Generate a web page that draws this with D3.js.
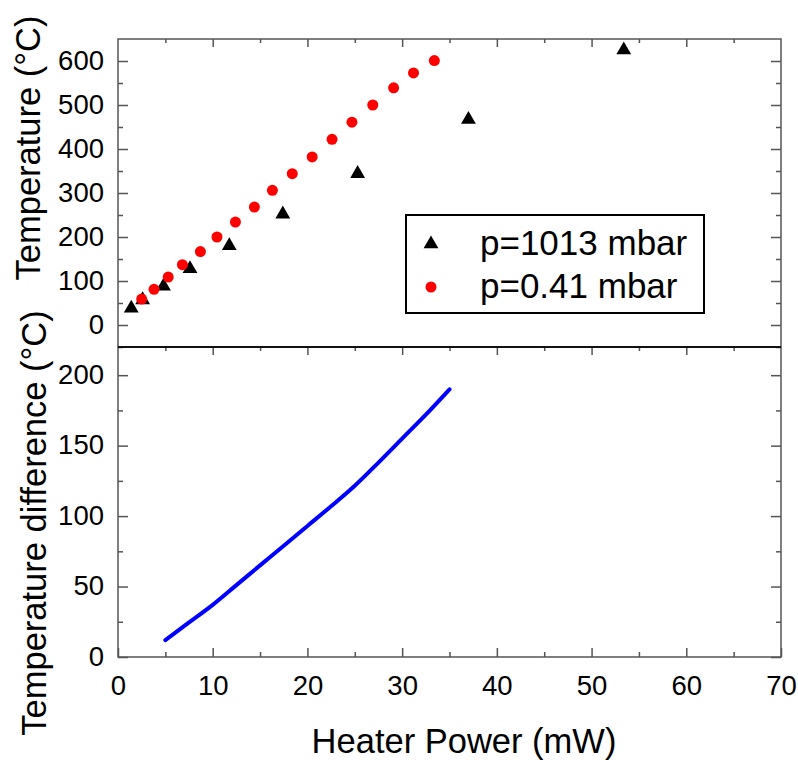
<!DOCTYPE html>
<html>
<head>
<meta charset="utf-8">
<script src="https://cdn.jsdelivr.net/npm/d3@7"></script>
<style>
  body { margin: 0; background: #fff; }
  svg { font-family: "Liberation Sans", Arial, sans-serif; }
  .axis path { display: none; }
  .axis line { stroke: #555; stroke-width: 1.5; }
  .axis text { font-family: "Liberation Sans", Arial, sans-serif; font-size: 27.5px; fill: #000; }
</style>
</head>
<body>
<script>
// data
var powerAtm = [1.4, 2.6, 4.8, 7.6, 11.75, 17.4, 25.3, 37.0, 53.4];
var tempAtm  = [38, 57, 88, 128, 180, 252, 344, 467, 625];

var powerVac = [2.5, 3.8, 5.3, 6.8, 8.7, 10.45, 12.4, 14.4, 16.3, 18.4, 20.5, 22.6, 24.7, 26.9, 29.1, 31.2, 33.4];
var tempVac  = [59, 81, 109, 137, 167, 200, 234, 268, 306, 344, 382, 422, 461, 500, 539, 573, 601];

var diffPower = [5, 7.5, 10, 12.5, 15, 17.5, 20, 22.5, 25, 27.5, 30, 32.5, 35];
var diffTemp  = [12, 24.5, 37, 51, 65, 79, 93, 107, 121.5, 138, 155, 172, 190];

var xTicks = [0, 10, 20, 30, 40, 50, 60, 70];
var topTicks = [0, 100, 200, 300, 400, 500, 600];
var botTicks = [0, 50, 100, 150, 200];

var legendLabels = ["p=1013 mbar", "p=0.41 mbar"];

var pLeft = 118, pRight = 781, pTop = 39, pMid = 347, pBottom = 657;

var svg = d3.select("body")
            .append("svg")
            .attr("width", 798)
            .attr("height", 760);

//Scales
var xScale = d3.scaleLinear().domain([0, 70]).range([pLeft, pRight]);
var yTop = d3.scaleLinear().domain([-50, 650]).range([pMid, pTop]);
var yBot = d3.scaleLinear().domain([0, 220]).range([pBottom, pMid]);

var minorX = d3.range(5, 70, 10);

//helper for inward tick axes
function addAxis(axis, tx, ty, cls) {
  return svg.append("g")
     .attr("class", "axis " + (cls || ""))
     .attr("transform", "translate(" + tx + "," + ty + ")")
     .call(axis);
}

// x axis bottom (labels + inward ticks)
addAxis(d3.axisBottom(xScale).tickValues(xTicks).tickSizeInner(-9).tickPadding(18), 0, pBottom, "xlab");
addAxis(d3.axisBottom(xScale).tickValues(minorX).tickSizeInner(-5).tickFormat(""), 0, pBottom);

// top edges of both panels
[pTop, pMid].forEach(function(yy) {
  addAxis(d3.axisTop(xScale).tickValues(xTicks.slice(1, -1)).tickSizeInner(-8).tickFormat(""), 0, yy);
  addAxis(d3.axisTop(xScale).tickValues(minorX).tickSizeInner(-4).tickFormat(""), 0, yy);
});

// top panel y axes
addAxis(d3.axisLeft(yTop).tickValues(topTicks).tickSizeInner(-10).tickPadding(14), pLeft, 0, "ylab");
addAxis(d3.axisLeft(yTop).tickValues(d3.range(-50, 650, 100)).tickSizeInner(-5).tickFormat(""), pLeft, 0);
addAxis(d3.axisRight(yTop).tickValues(topTicks).tickSizeInner(-10).tickFormat(""), pRight, 0);
addAxis(d3.axisRight(yTop).tickValues(d3.range(-50, 650, 100)).tickSizeInner(-5).tickFormat(""), pRight, 0);

// bottom panel y axes
addAxis(d3.axisLeft(yBot).tickValues(botTicks).tickSizeInner(-10).tickPadding(14), pLeft, 0, "ylab");
addAxis(d3.axisLeft(yBot).tickValues(d3.range(25, 220, 50)).tickSizeInner(-5).tickFormat(""), pLeft, 0);
addAxis(d3.axisRight(yBot).tickValues(botTicks).tickSizeInner(-10).tickFormat(""), pRight, 0);
addAxis(d3.axisRight(yBot).tickValues(d3.range(25, 220, 50)).tickSizeInner(-5).tickFormat(""), pRight, 0);

svg.selectAll(".ylab text").attr("dy", "0.3em");
svg.selectAll(".xlab text").attr("dy", "0.71em");

//Frames
svg.append("rect")
   .attr("x", pLeft).attr("y", pTop)
   .attr("width", pRight - pLeft).attr("height", pBottom - pTop)
   .attr("fill", "none")
   .attr("stroke", "#555")
   .attr("stroke-width", 1.5);

svg.append("line")
   .attr("x1", pLeft).attr("x2", pRight)
   .attr("y1", pMid).attr("y2", pMid)
   .attr("stroke", "#111")
   .attr("stroke-width", 2);

//Top panel points
var tri = d3.symbol().type(d3.symbolTriangle).size(95);

svg.selectAll("path.atm")
   .data(powerAtm)
   .enter()
   .append("path")
   .attr("class", "atm")
   .attr("d", tri)
   .attr("transform", function(d, i) {
     return "translate(" + xScale(d) + "," + yTop(tempAtm[i]) + ")";
   })
   .attr("fill", "#000");

svg.selectAll("circle.vac")
   .data(powerVac)
   .enter()
   .append("circle")
   .attr("class", "vac")
   .attr("cx", function(d) { return xScale(d); })
   .attr("cy", function(d, i) { return yTop(tempVac[i]); })
   .attr("r", 5.5)
   .attr("fill", "#ff0000");

//Bottom panel line
var line = d3.line()
  .x(function(d) { return xScale(d); })
  .y(function(d, i) { return yBot(diffTemp[i]); })
  .curve(d3.curveCatmullRom);

svg.append("path")
   .datum(diffPower)
   .attr("d", line)
   .attr("fill", "none")
   .attr("stroke", "#0000ff")
   .attr("stroke-width", 4)
   .attr("stroke-linecap", "round");

//Legend
var lg = svg.append("g").attr("transform", "translate(406,215)");
lg.append("rect")
  .attr("width", 298).attr("height", 98)
  .attr("fill", "#fff")
  .attr("stroke", "#000")
  .attr("stroke-width", 2);

lg.append("path")
  .attr("d", d3.symbol().type(d3.symbolTriangle).size(95))
  .attr("transform", "translate(25,29)")
  .attr("fill", "#000");
lg.append("circle")
  .attr("cx", 25).attr("cy", 72)
  .attr("r", 5.5)
  .attr("fill", "#ff0000");

lg.selectAll("text")
  .data(legendLabels)
  .enter()
  .append("text")
  .attr("x", 74)
  .attr("y", function(d, i) { return 40 + i * 43; })
  .attr("font-size", "35px")
  .text(function(d) { return d; });

//Axis titles
svg.append("text")
   .attr("transform", "translate(40,148) rotate(-90)")
   .attr("text-anchor", "middle")
   .attr("font-size", "34.5px")
   .text("Temperature (°C)");

svg.append("text")
   .attr("transform", "translate(46,523) rotate(-90)")
   .attr("text-anchor", "middle")
   .attr("font-size", "34.5px")
   .text("Temperature difference (°C)");

svg.append("text")
   .attr("x", 464)
   .attr("y", 753)
   .attr("text-anchor", "middle")
   .attr("font-size", "34.5px")
   .text("Heater Power (mW)");
</script>
</body>
</html>
